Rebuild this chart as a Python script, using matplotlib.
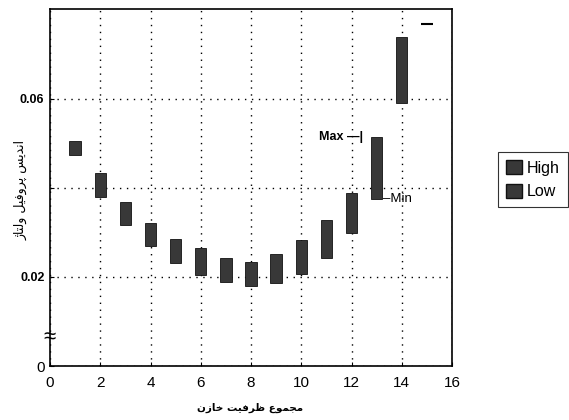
import matplotlib
matplotlib.use("Agg")
import matplotlib.pyplot as plt
from matplotlib.patches import Patch

plt.rcParams['font.family'] = ['Liberation Sans', 'DejaVu Sans']

x_vals = [1, 2, 3, 4, 5, 6, 7, 8, 9, 10, 11, 12, 13, 14]
high_vals = [0.0506, 0.0434, 0.0369, 0.0321, 0.0285, 0.0265, 0.0243, 0.0234,
             0.0252, 0.0283, 0.0328, 0.0389, 0.0515, 0.0739]
low_vals = [0.0474, 0.0380, 0.0317, 0.0270, 0.0231, 0.0204, 0.0189, 0.0180,
            0.0187, 0.0207, 0.0243, 0.0299, 0.0375, 0.0591]
extra_x = [15]
extra_val = [0.0769]

xticks = [0, 2, 4, 6, 8, 10, 12, 14, 16]
yticks = [0, 0.02, 0.04, 0.06]
ytick_labels = ['0', '0.02', '', '0.06']
legend_labels = ['High', 'Low']

# Persian labels written in visual (shaped) order
xlabel = '\uFEE5\uFEAF\uFE8E\uFEA7 \uFE96\uFEF4\uFED3\uFEAE\uFEC7 \uFEC9\uFEEE\uFEE4\uFEA0\uFEE3'
ylabel = '\uFB8A\uFE8E\uFE98\uFEDF\uFEED \uFEDE\uFEF4\uFED3\uFEED\uFEAE\uFB58 \uFEB2\uFEF3\uFEAA\uFEE7\uFE8D'

W, H = 569, 420
fig = plt.figure(figsize=(W / 100, H / 100), dpi=100)
ax = fig.add_axes([50/W, 54/H, 402/W, 357/H])

bar_color = '#383838'
heights = [h - l for h, l in zip(high_vals, low_vals)]
ax.bar(x_vals, heights, bottom=low_vals, width=0.45, color=bar_color,
       edgecolor='#111111', linewidth=0.6, zorder=3)
ax.hlines(extra_val, [e - 0.25 for e in extra_x], [e + 0.25 for e in extra_x],
          color='black', linewidth=1.5, zorder=3)

ax.set_xlim(0, 16)
ax.set_ylim(0, 0.0802)
ax.set_xticks(xticks)
ax.set_xticklabels([str(t) for t in xticks], fontsize=11)
ax.set_yticks(yticks)
ax.set_yticklabels(ytick_labels, fontsize=9, fontweight='bold')
lbl0 = ax.get_yticklabels()[0]
lbl0.set_fontsize(11)
lbl0.set_fontweight('normal')
ax.tick_params(axis='x', direction='in', length=3, width=0.8, pad=7)
ax.tick_params(axis='y', direction='in', length=3, width=0.8, pad=4)
ax.tick_params(top=False, right=False)
ax.grid(True, linestyle=(0, (1, 4)), color='black', linewidth=1.0)
ax.set_axisbelow(True)
for s in ax.spines.values():
    s.set_linewidth(1.2)

fig.text(250/W, 1 - 408/H, xlabel, family=['DejaVu Sans'], fontsize=7.5,
         fontweight='bold', ha='center', va='center')
fig.text(21/W, 1 - 190/H, ylabel, family=['DejaVu Sans'], fontsize=9,
         ha='center', va='center', rotation=90)

# axis break symbol
ax.text(0, 0.0063, '\u2248', fontsize=16, ha='center', va='center',
        clip_on=False, zorder=5)

# Max / Min annotations for bar at 13
i13 = x_vals.index(13)
ax.text(12.45, high_vals[i13], 'Max \u2014|', fontsize=9, fontweight='bold',
        ha='right', va='center', zorder=4)
ax.text(13.25, low_vals[i13], '\u2013Min', fontsize=9.5,
        ha='left', va='center', zorder=4)

handles = [Patch(facecolor=bar_color, edgecolor='#111111', label=l) for l in legend_labels]
leg = fig.legend(handles=handles, loc='upper left', bbox_to_anchor=(498/W, 1 - 152/H),
                 frameon=True, fancybox=False, edgecolor='black', fontsize=11.5,
                 handlelength=1.0, handleheight=1.0, handletextpad=0.3,
                 borderpad=0.5, labelspacing=0.5, borderaxespad=0)
leg.get_frame().set_linewidth(0.8)

fig.savefig('out.png', dpi=100)
